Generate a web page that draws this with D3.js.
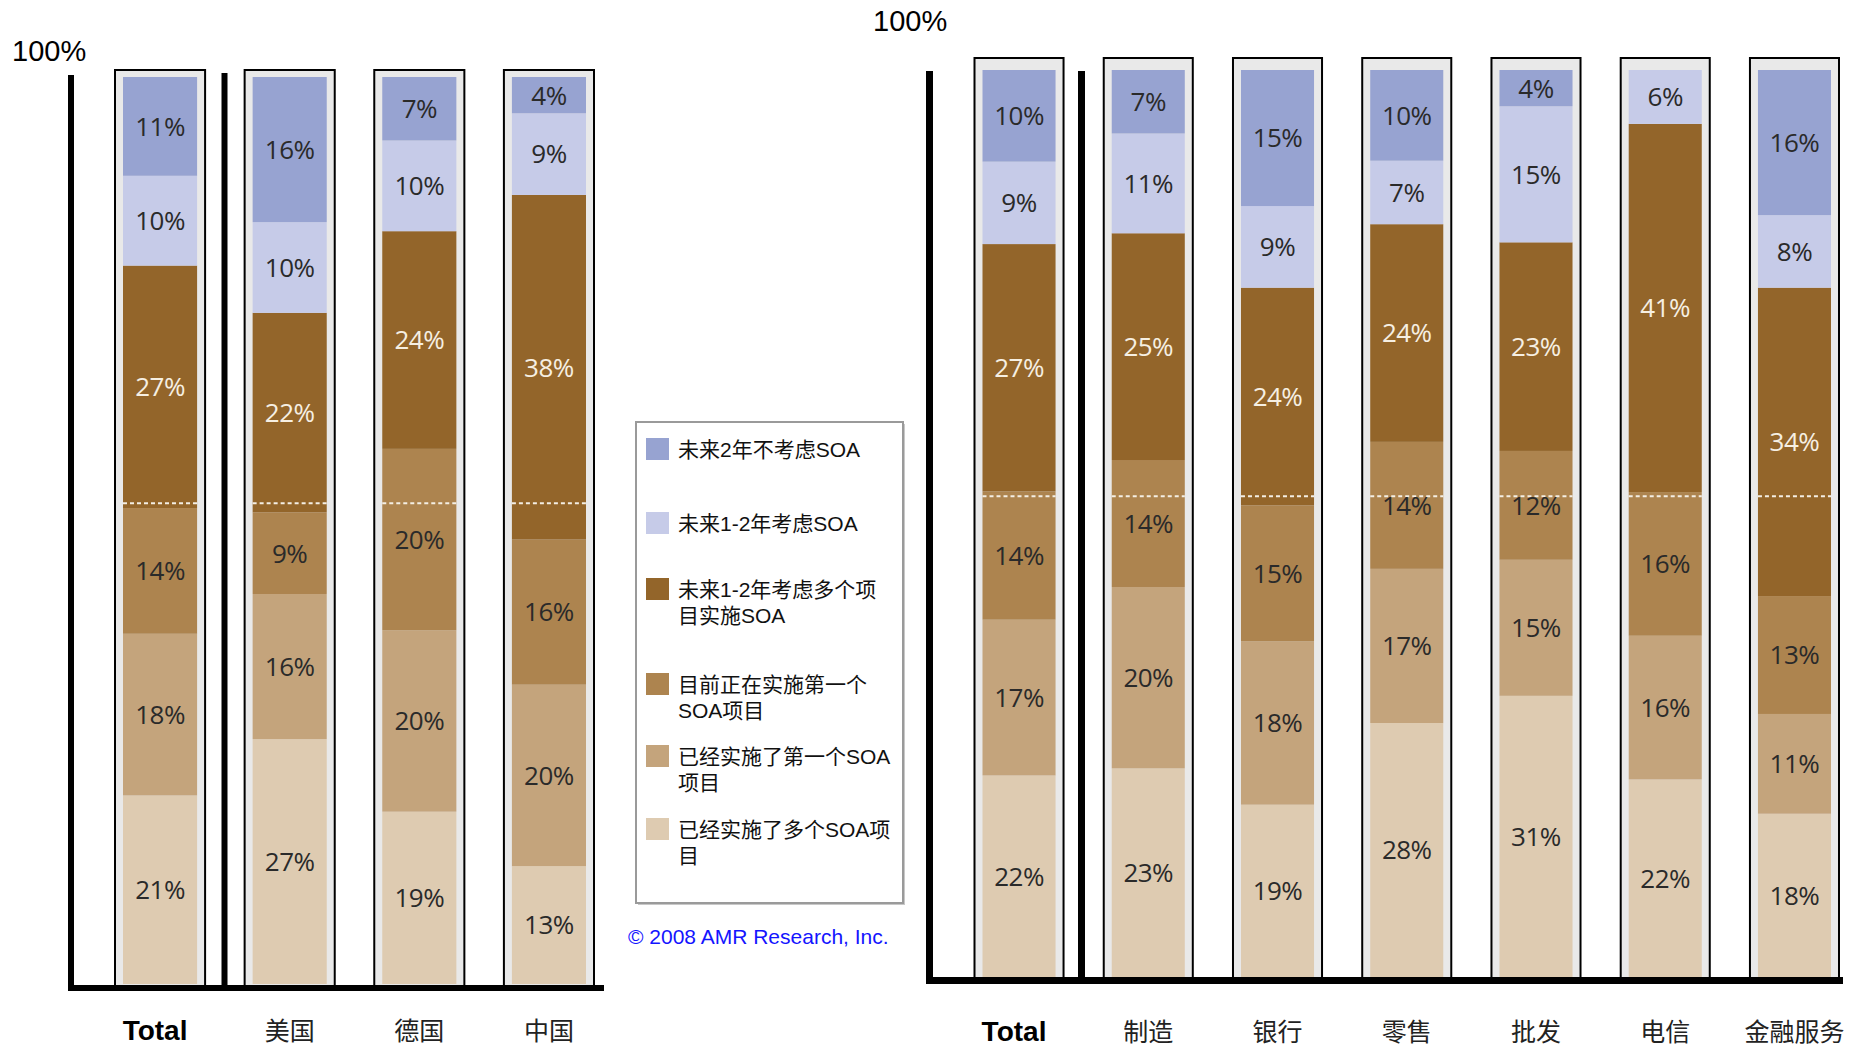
<!DOCTYPE html>
<html><head><meta charset="utf-8">
<script src="https://cdn.jsdelivr.net/npm/d3@7"></script>
<style>
html,body{margin:0;padding:0;background:#fff;}
svg{display:block;}
</style></head><body>
<svg id="chart" width="1858" height="1050"></svg>
<script>
// ---------------- data ----------------
const seriesNames = ["未来2年不考虑SOA","未来1-2年考虑SOA","未来1-2年考虑多个项目实施SOA","目前正在实施第一个SOA项目","已经实施了第一个SOA项目","已经实施了多个SOA项目"];
const legendLines = [["未来2年不考虑SOA"],["未来1-2年考虑SOA"],["未来1-2年考虑多个项","目实施SOA"],["目前正在实施第一个","SOA项目"],["已经实施了第一个SOA","项目"],["已经实施了多个SOA项","目"]];
const seriesColors = ["#97a3d1","#c6cbe8","#93652a","#ad844f","#c4a47c","#decbb1"];

const leftCategories = ["Total","美国","德国","中国"];
const leftNo2y        = [11,16,7,4];
const left12y         = [10,10,10,9];
const left12yMulti    = [27,22,24,38];
const leftImplFirst   = [14,9,20,16];
const leftDoneFirst   = [18,16,20,20];
const leftDoneMulti   = [21,27,19,13];

const rightCategories = ["Total","制造","银行","零售","批发","电信","金融服务"];
const rightNo2y       = [10,7,15,10,4,0,16];
const right12y        = [9,11,9,7,15,6,8];
const right12yMulti   = [27,25,24,24,23,41,34];
const rightImplFirst  = [14,14,15,14,12,16,13];
const rightDoneFirst  = [17,20,18,17,15,16,11];
const rightDoneMulti  = [22,23,19,28,31,22,18];

const axisTopLabel = "100%";
const copyrightText = "© 2008 AMR Research, Inc.";

// ---------------- drawing ----------------
const svg = d3.select("#chart");
const keys = seriesNames.map((_, i) => "s" + i);
const stackKeys = keys.slice().reverse(); // bottom to top

function buildRows(cats, arrays) {
  return cats.map((c, i) => {
    const r = {cat: c};
    arrays.forEach((a, k) => r["s" + k] = a[i]);
    return r;
  });
}

function drawChart(cats, arrays, geo) {
  const g = svg.append("g");
  const rows = buildRows(cats, arrays);
  const x = d3.scaleBand().domain(cats).range([geo.x0, geo.x1]).paddingInner(geo.padIn).paddingOuter(0);
  const y = d3.scaleLinear().domain([0, 1]).range([geo.barBottom, geo.barTop]);
  const stacked = d3.stack().keys(stackKeys).offset(d3.stackOffsetExpand)(rows);
  const bw = x.bandwidth();
  const inset = 8;

  // boxes
  g.selectAll("rect.box").data(cats).join("rect")
    .attr("x", d => x(d)).attr("y", geo.boxTop)
    .attr("width", bw).attr("height", geo.axisBottom - geo.boxTop)
    .attr("fill", "#e9e9e9").attr("stroke", "#000").attr("stroke-width", 2);

  // segments
  const layers = g.selectAll("g.layer").data(stacked).join("g")
    .attr("fill", d => seriesColors[keys.indexOf(d.key)]);
  layers.selectAll("rect").data(d => d).join("rect")
    .attr("x", d => x(d.data.cat) + inset)
    .attr("y", d => y(d[1]))
    .attr("width", bw - 2 * inset)
    .attr("height", d => Math.max(0, y(d[0]) - y(d[1])));

  // dashed reference line (Total's implemented share)
  const refVal = (arrays[3][0] + arrays[4][0] + arrays[5][0]) / 100;
  g.selectAll("line.ref").data(cats).join("line")
    .attr("x1", d => x(d) + inset).attr("x2", d => x(d) + bw - inset)
    .attr("y1", y(refVal)).attr("y2", y(refVal))
    .attr("stroke", "#f4eee4").attr("stroke-width", 2).attr("stroke-dasharray", "4,3");

  // value labels
  stacked.forEach(layer => {
    const si = keys.indexOf(layer.key);
    g.append("g").selectAll("text").data(layer.filter(d => d.data[layer.key] > 0)).join("text")
      .attr("x", d => x(d.data.cat) + bw / 2)
      .attr("y", d => (y(d[0]) + y(d[1])) / 2)
      .attr("dy", "0.36em")
      .attr("text-anchor", "middle")
      .attr("font-family", "'Open Sans', 'Noto Sans', sans-serif")
      .attr("font-size", 26)
      .attr("letter-spacing", "-0.5px")
      .attr("fill", si === 2 ? "#f6efe2" : "#2a2a2a")
      .text(d => d.data[layer.key] + "%");
  });

  // axis lines
  const axisLine = (x1, y1, x2, y2, w) => g.append("line")
    .attr("x1", x1).attr("y1", y1).attr("x2", x2).attr("y2", y2)
    .attr("stroke", "#000").attr("stroke-width", w);
  axisLine(geo.axisX, geo.axisTop, geo.axisX, geo.axisBottom + geo.lw / 2, geo.lw);
  axisLine(geo.sepX, geo.sepTop, geo.sepX, geo.axisBottom + geo.lw / 2, geo.lw);
  axisLine(geo.axisX - geo.lw / 2, geo.axisBottom, geo.lineEnd, geo.axisBottom, geo.lw);

  // 100% label
  g.append("text").attr("x", geo.pctX).attr("y", geo.pctY)
    .attr("font-family", "'Liberation Sans', Arial, sans-serif").attr("font-size", 29)
    .attr("fill", "#000").text(axisTopLabel);

  // category labels
  g.selectAll("text.cat").data(cats).join("text")
    .attr("x", d => x(d) + bw / 2 + (d === "Total" ? -5 : 0))
    .attr("y", geo.labelY)
    .attr("text-anchor", "middle")
    .attr("font-family", d => d === "Total" ? "'Liberation Sans', Arial, sans-serif" : "'Noto Sans CJK SC', sans-serif")
    .attr("font-weight", d => d === "Total" ? "bold" : "normal")
    .attr("font-size", d => d === "Total" ? 28 : 25)
    .attr("fill", d => d === "Total" ? "#000" : "#222")
    .text(d => d);
}

drawChart(leftCategories,
  [leftNo2y, left12y, left12yMulti, leftImplFirst, leftDoneFirst, leftDoneMulti],
  {x0: 115, x1: 594, padIn: 0.305, barTop: 77, barBottom: 984, boxTop: 70,
   axisBottom: 988, lw: 6, axisX: 71, axisTop: 75, sepX: 224.5, sepTop: 73, lineEnd: 604,
   pctX: 12, pctY: 61, labelY: 1040});

drawChart(rightCategories,
  [rightNo2y, right12y, right12yMulti, rightImplFirst, rightDoneFirst, rightDoneMulti],
  {x0: 974.5, x1: 1839, padIn: 0.311, barTop: 70, barBottom: 977, boxTop: 58,
   axisBottom: 980.5, lw: 7, axisX: 929.5, axisTop: 71, sepX: 1081.5, sepTop: 71, lineEnd: 1843,
   pctX: 873, pctY: 31, labelY: 1041});

// ---------------- legend ----------------
const leg = svg.append("g");
leg.append("rect").attr("x", 638).attr("y", 424).attr("width", 267).attr("height", 481)
  .attr("fill", "#c8c8c8");
leg.append("rect").attr("x", 636).attr("y", 422).attr("width", 267).attr("height", 481)
  .attr("fill", "#fff").attr("stroke", "#9a9a9a").attr("stroke-width", 2);
const swatchTops = [438, 512, 578, 673, 745, 818];
const legItems = leg.selectAll("g.item").data(seriesNames).join("g")
  .attr("transform", (d, i) => `translate(646,${swatchTops[i]})`);
legItems.append("rect").attr("width", 23).attr("height", 22)
  .attr("fill", (d, i) => seriesColors[i]);
legItems.each(function(d, i) {
  const t = d3.select(this).append("text")
    .attr("font-family", "'Liberation Sans', 'Noto Sans CJK SC', sans-serif")
    .attr("font-size", 21).attr("fill", "#111");
  legendLines[i].forEach((line, j) => {
    t.append("tspan").attr("x", 32).attr("y", 19 + j * 26).text(line);
  });
});

svg.append("text").attr("x", 628).attr("y", 944)
  .attr("font-family", "'Liberation Sans', Arial, sans-serif").attr("font-size", 21)
  .attr("fill", "#1414ff").text(copyrightText);
</script>
</body></html>
